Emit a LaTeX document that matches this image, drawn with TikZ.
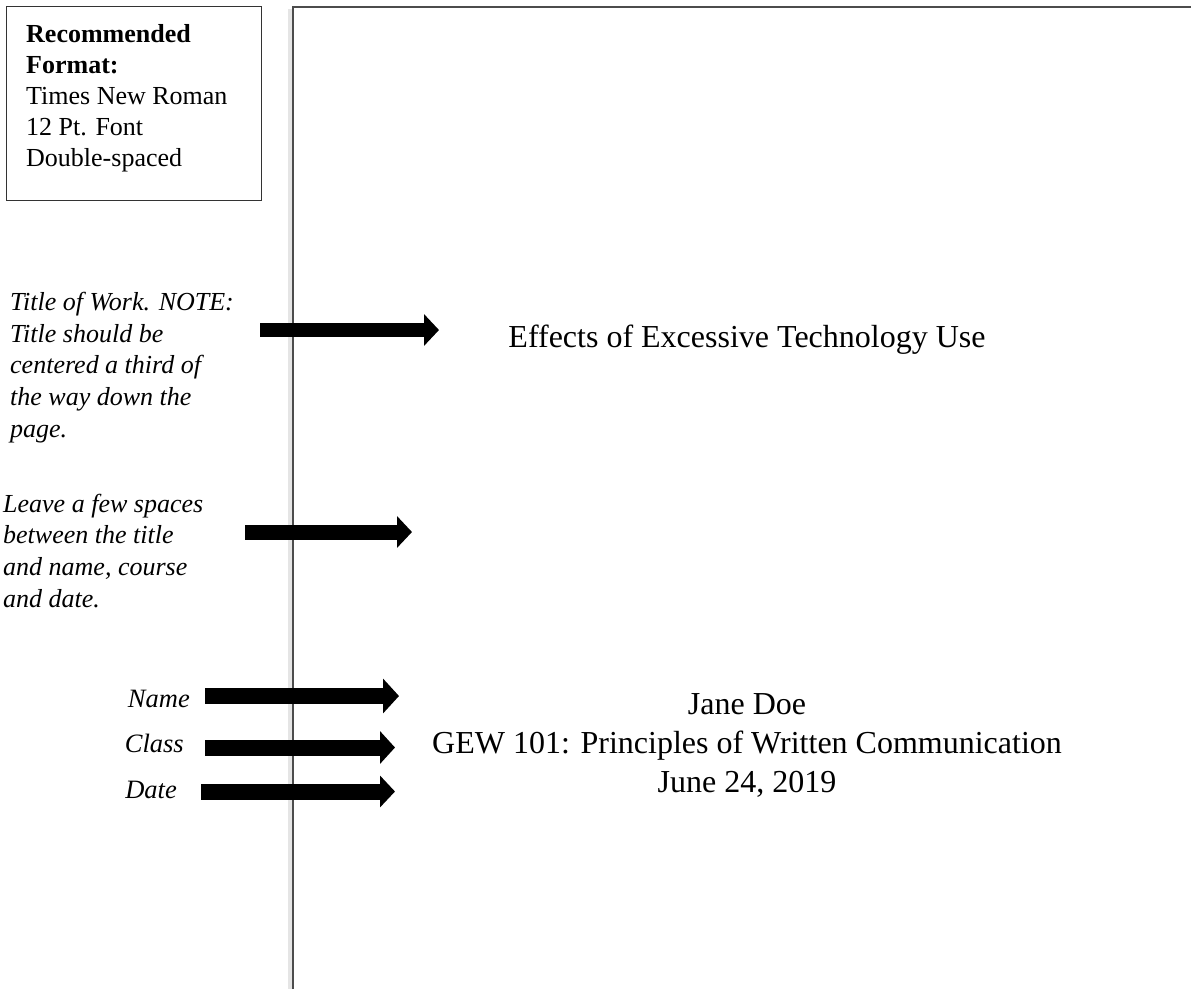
\documentclass[tikz,border=0pt]{standalone}
\usepackage{fontspec}
\setmainfont{Liberation Serif}
\usetikzlibrary{arrows.meta,positioning}

\begin{document}
\begin{tikzpicture}[x=1pt, y=-1pt]

\tikzstyle{note} = [anchor=base west, inner sep=0pt, align=left, font=\fontsize{26}{31.6}\selectfont\itshape]
\tikzstyle{tag} = [anchor=base east, inner sep=0pt, font=\fontsize{26.5}{31.6}\selectfont\itshape]
\tikzstyle{body} = [anchor=base, inner sep=0pt, align=center, font=\fontsize{32}{39}\selectfont]
\tikzstyle{bigarrow} = [line width=15pt, -{Triangle[length=15pt, width=31pt]}]
\tikzstyle{pageedge} = [line width=1.6pt, draw=black!70]

\useasboundingbox (0,0) rectangle (1191,989);

% the page
\draw [line width=4pt, draw=black!10] (289.5,989) -- (289.5,9);
\draw [pageedge] (293,989) -- (293,7) -- (1191,7);

% format box (multi-line nodes sit on their last baseline)
\node (fbox) [draw, line width=1.4pt, draw=black!80, anchor=north west, minimum width=255pt, minimum height=194pt, inner sep=0pt] at (6,6) {};
\node (ftext) [anchor=base west, inner sep=0pt, align=left, font=\fontsize{26}{31}\selectfont] at (26,166) {\textbf{Recommended}\\\textbf{Format:}\\Times New Roman\\12 Pt. Font\\Double-spaced};

% notes on the left
\node (ntitle) [note] at (10,437) {Title of Work. NOTE:\\Title should be\\centered a third of\\the way down the\\page.};
\node (nspace) [note] at (3,607) {Leave a few spaces\\between the title\\and name, course\\and date.};
\node (nname) [tag] at (190,707) {Name};
\node (nclass) [tag] at (184,752) {Class};
\node (ndate) [tag] at (177,798) {Date};

% text on the page
\node (title) [body] at (747,347) {Effects of Excessive Technology Use};
\node (info) [body] at (747,792) {Jane Doe\\GEW 101: Principles of Written Communication\\June 24, 2019};

\coordinate (a1s) at (260,330);   \coordinate (a1e) at (439,330);
\coordinate (a2s) at (245,532);   \coordinate (a2e) at (412,532);
\coordinate (a3s) at (205,696);   \coordinate (a3e) at (399,696);
\coordinate (a4s) at (205,747.5); \coordinate (a4e) at (395,747.5);
\coordinate (a5s) at (201,791.5); \coordinate (a5e) at (395,791.5);

\draw [bigarrow, line width=14pt] (a1s) -- (a1e);
\draw [bigarrow] (a2s) -- (a2e);
\draw [bigarrow, line width=16pt, -{Triangle[length=16pt, width=34pt]}] (a3s) -- (a3e);
\draw [bigarrow, line width=16pt, -{Triangle[length=15pt, width=32pt]}] (a4s) -- (a4e);
\draw [bigarrow, line width=16pt] (a5s) -- (a5e);
\end{tikzpicture}
\end{document}
